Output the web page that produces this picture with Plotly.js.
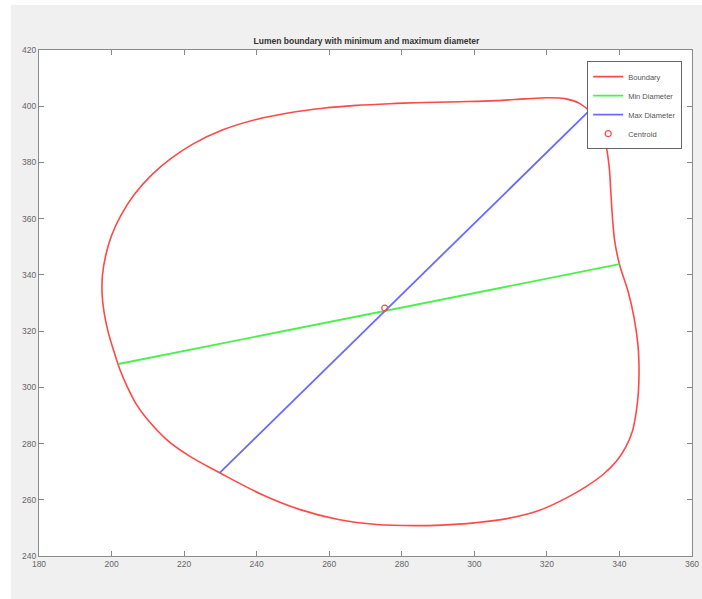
<!DOCTYPE html>
<html>
<head>
<meta charset="utf-8">
<script src="https://cdn.plot.ly/plotly-3.0.1.min.js"></script>
<style>html,body{margin:0;padding:0;background:#fff;}#chart{width:702px;height:599px;}</style>
</head>
<body>
<div id="chart"></div>
<script>
// Boundary of the lumen, closed loop starting on the flat top edge
const boundaryX = [276.7,286,296,306,314,320,325,329,332.3,334.7,336.3,337.2,337.6,338.1,338.7,340.0,342.4,344.0,345.1,345.4,345.2,344.6,343.6,341.8,339.1,335.4,330.8,325.3,318.0,309.0,300.0,291.0,283.6,273.1,262.5,252.0,241.4,229.8,221.4,215.1,209.8,206.8,204.4,202.4,200.6,199.0,197.9,197.4,197.5,198.4,200.0,202.5,206.2,211.0,216.5,222.5,230.7,239.9,249.1,258.3,267.5,276.7,286];
const boundaryY = [400.9,401.3,401.6,402.0,402.6,403.0,402.7,401.0,397.5,392.5,386,378,370,360,352,343.8,334,325,315,306,298,291,284.5,278.9,273.6,268.9,264.7,260.6,256.3,253.3,251.8,251.0,250.8,251.2,253.0,256.5,261.9,269.6,275.6,281.5,288.7,294,300,306,313,320,327,333,340,347,354,361,368.5,375.5,381.5,386.6,391.6,395.3,397.7,399.3,400.3,400.9,401.3];
const minDiamX = [201.9, 340.0];
const minDiamY = [308.3, 343.8];
const maxDiamX = [229.8, 331.7];
const maxDiamY = [269.6, 398.4];
const centroidX = [275.3];
const centroidY = [328.2];
const seriesNames = ["Boundary", "Min Diameter", "Max Diameter", "Centroid"];
const xTicks = [180,200,220,240,260,280,300,320,340,360];
const yTicks = [240,260,280,300,320,340,360,380,400,420];
const titleText = "Lumen boundary with minimum and maximum diameter";

const traces = [
  {x: boundaryX, y: boundaryY, name: seriesNames[0], mode: "lines",
   line: {color: "#ff4848", width: 1.6, shape: "spline", smoothing: 1}},
  {x: minDiamX, y: minDiamY, name: seriesNames[1], mode: "lines",
   line: {color: "#4cf04c", width: 1.8}},
  {x: maxDiamX, y: maxDiamY, name: seriesNames[2], mode: "lines",
   line: {color: "#6a6aff", width: 1.8}},
  {x: centroidX, y: centroidY, name: seriesNames[3], mode: "markers",
   marker: {symbol: "circle-open", color: "#ff4848", size: 6, line: {width: 1.2}}}
];

const axisCommon = {
  showgrid: false, zeroline: false, showline: true, linecolor: "#8a8a8a", linewidth: 1,
  mirror: "ticks", ticks: "inside", ticklen: 5, tickcolor: "#8a8a8a", tickwidth: 1,
  tickfont: {family: "Liberation Sans, Arial, sans-serif", size: 8.5, color: "#666"}
};

const layout = {
  width: 702, height: 599,
  margin: {l: 39, r: 10, t: 50, b: 43},
  paper_bgcolor: "#ffffff",
  plot_bgcolor: "#ffffff",
  title: {text: "<b>" + titleText + "</b>", x: 0.522, xanchor: "center", y: 0.932, yanchor: "middle", yref: "container",
          font: {family: "Liberation Sans, Arial, sans-serif", size: 8.5, color: "#333"}},
  xaxis: Object.assign({}, axisCommon, {range: [180, 360], tickvals: xTicks, ticktext: xTicks.map(String)}),
  yaxis: Object.assign({}, axisCommon, {range: [240, 420], tickvals: yTicks, ticktext: yTicks.map(String)}),
  showlegend: true,
  legend: {x: 0.985, xanchor: "right", y: 0.978, yanchor: "top", bgcolor: "#ffffff",
           bordercolor: "#666", borderwidth: 1, itemwidth: 30, tracegroupgap: 0,
           font: {family: "Liberation Sans, Arial, sans-serif", size: 7.5, color: "#555"}},
  shapes: [
    {type: "rect", xref: "paper", yref: "paper", x0: -0.0432, x1: 1.08, y0: -0.09, y1: 1.089,
     fillcolor: "#f0f0f0", line: {width: 0}, layer: "below"},
    {type: "rect", xref: "paper", yref: "paper", x0: 0, x1: 1, y0: 0, y1: 1,
     fillcolor: "#ffffff", line: {width: 0}, layer: "below"}
  ]
};

Plotly.newPlot("chart", traces, layout, {displayModeBar: false, staticPlot: true});
</script>
</body>
</html>
